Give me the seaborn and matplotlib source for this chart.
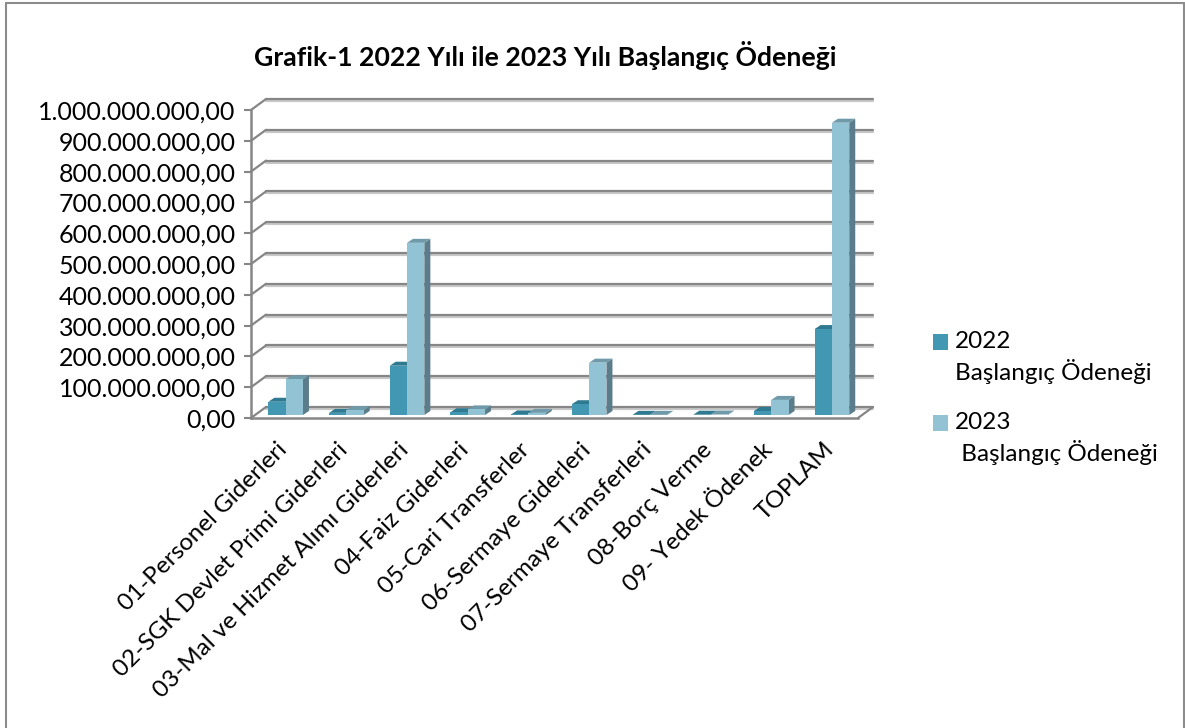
import matplotlib
matplotlib.use("Agg")
import matplotlib.pyplot as plt
import matplotlib.patheffects as pe
from matplotlib.lines import Line2D
from matplotlib.patches import Polygon
from matplotlib.transforms import Affine2D, IdentityTransform
import pandas as pd
import seaborn as sns

categories = ["01-Personel Giderleri", "02-SGK Devlet Primi Giderleri", "03-Mal ve Hizmet Alımı Giderleri",
              "04-Faiz Giderleri", "05-Cari Transferler", "06-Sermaye Giderleri",
              "07-Sermaye Transferleri", "08-Borç Verme", "09- Yedek Ödenek", "TOPLAM"]
odenek_2022 = [43e6, 7e6, 160e6, 9e6, 2e6, 35e6, 0.5e6, 1e6, 13e6, 279e6]
odenek_2023 = [116e6, 16e6, 559e6, 18e6, 7e6, 170e6, 0.5e6, 1.5e6, 49e6, 949e6]
series_names = ["2022\nBaşlangıç Ödeneği", "2023\n Başlangıç Ödeneği"]
y_ticks = [0, 1e8, 2e8, 3e8, 4e8, 5e8, 6e8, 7e8, 8e8, 9e8, 1e9]
y_labels = ["0,00", "100.000.000,00", "200.000.000,00", "300.000.000,00", "400.000.000,00", "500.000.000,00",
            "600.000.000,00", "700.000.000,00", "800.000.000,00", "900.000.000,00", "1.000.000.000,00"]

DARK = "#4297B3"
LIGHT = "#92C3D5"
DARK_TOP = "#2F7A91"
LIGHT_TOP = "#6F9AAA"
SIDE = "#5B7C8A"
GRID = "#868686"

W, H = 1185, 728

sns.set_theme(style="white")
plt.rcParams["font.family"] = ["Lato", "DejaVu Sans"]

df = pd.DataFrame({"kalem": categories, series_names[0]: odenek_2022, series_names[1]: odenek_2023})
df = df.melt(id_vars="kalem", var_name="yil", value_name="odenek")

fig = plt.figure(figsize=(W / 100, H / 100), dpi=100, facecolor="white")
# front plane of the fake 3d box, pixel positions from the reference
ax = fig.add_axes([251 / W, 1 - 418 / H, 607 / W, 308 / H])
ax.patch.set_alpha(0)

sns.barplot(data=df, x="kalem", y="odenek", hue="yil", palette=[DARK, LIGHT], width=0.57, gap=0,
            saturation=1, ax=ax, zorder=3, linewidth=0, edgecolor="none")
ax.set_xlim(-0.5, 9.5)
ax.set_ylim(0, 1e9)
ax.set_xlabel("")
ax.set_ylabel("")
ax.set_yticks(y_ticks)
ax.set_yticklabels(y_labels, fontsize=18, color="black")
ax.tick_params(axis="y", length=5, width=1.5, color=GRID, pad=6, left=True)
ax.tick_params(axis="x", length=0, pad=15)
ax.set_xticks(range(len(categories)))
ax.set_xticklabels(categories, rotation=45, ha="right", va="top", rotation_mode="anchor", fontsize=17.5, color="black")
label_shift = Affine2D().translate(-5, 0)
for lab in ax.get_xticklabels():
    lab.set_transform(lab.get_transform() + label_shift)
for s in ["top", "right"]:
    ax.spines[s].set_visible(False)
for s in ["left", "bottom"]:
    ax.spines[s].set_color(GRID)
    ax.spines[s].set_linewidth(1.8)

# walls, offset in pixels to the back of the box
shadow = [pe.SimpleLineShadow(offset=(0, -1.5), shadow_color="#bbbbbb", alpha=0.8), pe.Normal()]
back = ax.transData + Affine2D().translate(15, 11)
for v in y_ticks:
    ax.plot([-0.5, 9.5], [v, v], color=GRID, lw=1.6, transform=back, clip_on=False, zorder=1, path_effects=shadow)
    x0, y0 = ax.transData.transform((-0.5, v))
    ax.plot([x0, x0 + 15], [y0, y0 + 11], color=GRID, lw=1.6, transform=IdentityTransform(), clip_on=False, zorder=1)
x1, y1 = ax.transData.transform((9.5, 0))
ax.plot([x1, x1 + 15], [y1, y1 + 11], color=GRID, lw=1.6, transform=IdentityTransform(), clip_on=False, zorder=1)

# bars stand a bit inside the floor, extruded by hand from their own patches
shift = Affine2D().translate(4.3, 3)
DX, DY = 6, 4
for bar in ax.patches:
    if bar.get_height() == 0 and bar.get_width() == 0:
        continue
    is_dark = bar.get_facecolor()[:3] == matplotlib.colors.to_rgb(DARK)
    (xa, ya), (xb, yb) = shift.transform(ax.transData.transform(
        [(bar.get_x(), 0), (bar.get_x() + bar.get_width(), bar.get_height())]))
    top_col = DARK_TOP if is_dark else LIGHT_TOP
    ax.add_patch(Polygon([(xb, ya), (xb + DX, ya + DY), (xb + DX, yb + DY), (xb, yb)], closed=True, fc=SIDE, ec="none",
                         transform=IdentityTransform(), clip_on=False, zorder=2.5))
    ax.add_patch(Polygon([(xa, yb), (xa + DX, yb + DY), (xb + DX, yb + DY), (xb, yb)], closed=True, fc=top_col, ec="none",
                         transform=IdentityTransform(), clip_on=False, zorder=2.5))
    bar.set_transform(ax.transData + shift)
    bar.set_clip_on(False)

handles, labels = ax.get_legend_handles_labels()
leg = ax.legend(handles, labels, loc="upper left", bbox_to_anchor=(933 / W, 1 - 331 / H),
                bbox_transform=fig.transFigure, frameon=False, fontsize=17.5, handlelength=0.62, handleheight=0.62,
                handletextpad=0.3, labelspacing=1.13, labelcolor="black", borderpad=0, borderaxespad=0)
for t in leg.get_texts():
    t.set_linespacing(1.35)
# the square sits beside the first line
for h in leg.legend_handles:
    h.set_y(h.get_y() + 11)

fig.text(545 / W, 1 - 56 / H, "Grafik-1 2022 Yılı ile 2023 Yılı Başlangıç Ödeneği", ha="center", va="center",
         fontsize=19.2, fontweight="bold", color="black")

# chart frame, the bottom edge is cut off in the reference
for xs, ys in [((6, 6), (728, 3)), ((6, 1184), (3, 3)), ((1184, 1184), (3, 728))]:
    fig.add_artist(Line2D([x / W for x in xs], [1 - y / H for y in ys], color="#8c8c8c", lw=1.5))

fig.savefig("out.png", dpi=100)
